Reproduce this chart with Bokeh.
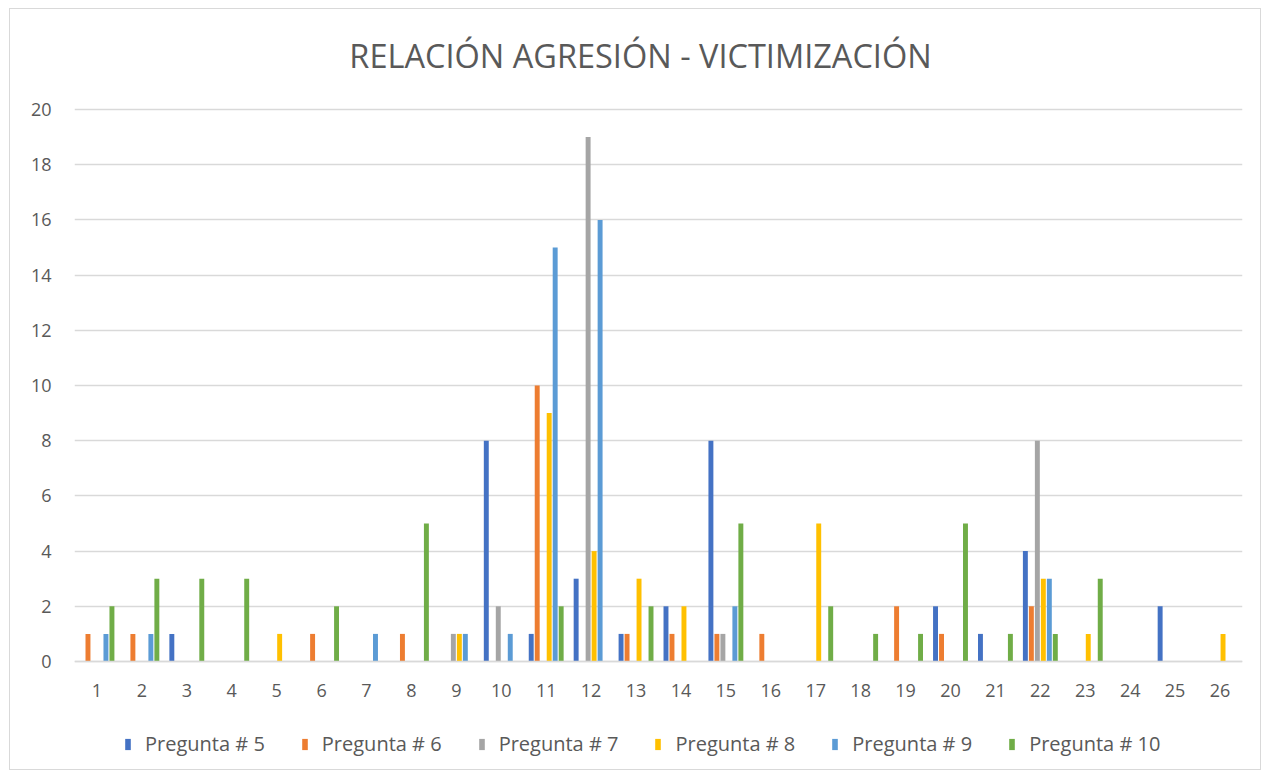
from bokeh.plotting import figure
from bokeh.models import FactorRange, Range1d, Legend, LegendItem, ColumnDataSource, FixedTicker, Label
from bokeh.transform import dodge
from bokeh.embed import file_html
from bokeh.resources import INLINE

title_text = "RELACIÓN AGRESIÓN - VICTIMIZACIÓN"
categories = [str(i) for i in range(1, 27)]
series_names = ["Pregunta # 5", "Pregunta # 6", "Pregunta # 7", "Pregunta # 8", "Pregunta # 9", "Pregunta # 10"]
p5 = [0, 0, 1, 0, 0, 0, 0, 0, 0, 8, 1, 3, 1, 2, 8, 0, 0, 0, 0, 2, 1, 4, 0, 0, 2, 0]
p6 = [1, 1, 0, 0, 0, 1, 0, 1, 0, 0, 10, 0, 1, 1, 1, 1, 0, 0, 2, 1, 0, 2, 0, 0, 0, 0]
p7 = [0, 0, 0, 0, 0, 0, 0, 0, 1, 2, 0, 19, 0, 0, 1, 0, 0, 0, 0, 0, 0, 8, 0, 0, 0, 0]
p8 = [0, 0, 0, 0, 1, 0, 0, 0, 1, 0, 9, 4, 3, 2, 0, 0, 5, 0, 0, 0, 0, 3, 1, 0, 0, 1]
p9 = [1, 1, 0, 0, 0, 0, 1, 0, 1, 1, 15, 16, 0, 0, 2, 0, 0, 0, 0, 0, 0, 3, 0, 0, 0, 0]
p10 = [2, 3, 3, 3, 0, 2, 0, 5, 0, 0, 2, 0, 2, 0, 5, 0, 2, 1, 1, 5, 1, 1, 3, 0, 0, 0]
y_ticks = [0, 2, 4, 6, 8, 10, 12, 14, 16, 18, 20]
colors = ["#4472C4", "#ED7D31", "#A5A5A5", "#FFC000", "#5B9BD5", "#70AD47"]

series = [p5, p6, p7, p8, p9, p10]
data = {"cat": categories}
keys = []
for i, s in enumerate(series):
    k = f"s{i}"
    keys.append(k)
    data[k] = s
source = ColumnDataSource(data)

FONT = "Open Sans"
TXT = "#595959"

# frame covers the whole chart: 100px above the 0..20 band (title), 552px band, 110px below
PX_PER_UNIT = 552 / 20.0
y_bottom = -110 / PX_PER_UNIT
y_top = 20 + 100 / PX_PER_UNIT

p = figure(x_range=FactorRange(factors=categories, range_padding=0),
           y_range=Range1d(start=y_bottom, end=y_top),
           width=1252, height=762, output_backend="svg", toolbar_location=None,
           min_border_left=64, min_border_right=20, min_border_top=0, min_border_bottom=0)
p.styles = {"border": "1px solid #d9d9d9", "margin-left": "9px", "margin-top": "8px"}

title = Label(x=12.6, y=20 + 54 / PX_PER_UNIT, text=title_text, text_align="center",
              text_baseline="middle", text_font=FONT, text_font_size="32.5px", text_color=TXT)
p.add_layout(title)

items = []
step = 6 / 45.0
for i, k in enumerate(keys):
    r = p.vbar(x=dodge("cat", (i - 2.5) * step, range=p.x_range), top=k, width=0.11,
               source=source, fill_color=colors[i], line_color=None)
    items.append(LegendItem(label=series_names[i], renderers=[r]))

legend = Legend(items=items, orientation="horizontal", location=(50, 14),
                label_text_font=FONT, label_text_font_size="20px", label_text_color=TXT,
                glyph_width=7, glyph_height=14, spacing=36, label_standoff=14,
                border_line_color=None, background_fill_alpha=0, padding=0, margin=0)
p.add_layout(legend, "center")

p.yaxis.ticker = FixedTicker(ticks=y_ticks)
p.ygrid.ticker = FixedTicker(ticks=y_ticks)
p.ygrid.grid_line_color = "#d9d9d9"
p.ygrid.grid_line_width = 1.3
p.xgrid.grid_line_color = None
p.yaxis.axis_line_color = None
p.yaxis.major_tick_line_color = None
p.yaxis.minor_tick_line_color = None
p.yaxis.major_label_text_font = FONT
p.yaxis.major_label_text_font_size = "18px"
p.yaxis.major_label_text_color = TXT
p.yaxis.major_label_standoff = 17

p.xaxis.fixed_location = 0
p.xaxis.axis_line_color = "#d9d9d9"
p.xaxis.axis_line_width = 1.3
p.xaxis.major_tick_line_color = None
p.xaxis.minor_tick_line_color = None
p.xaxis.major_label_text_font = FONT
p.xaxis.major_label_text_font_size = "18px"
p.xaxis.major_label_text_color = TXT
p.xaxis.major_label_standoff = 16
p.outline_line_color = None

open("out.html", "w").write(file_html(p, INLINE))
